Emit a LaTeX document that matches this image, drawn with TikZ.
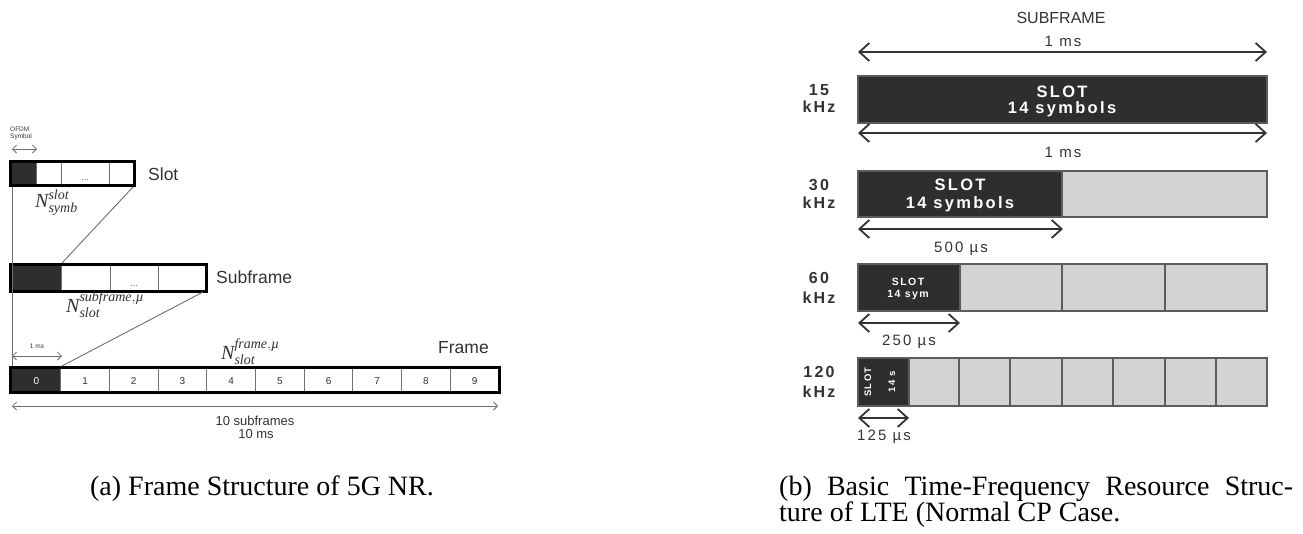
\documentclass[tikz,border=0pt]{standalone}
\usepackage{fontspec}
\usepackage{amsmath}
\setmainfont{Liberation Serif}
\newfontfamily\sfreg{Liberation Sans}
\newfontfamily\sfsp[LetterSpace=14]{Liberation Sans}
\newfontfamily\sfbold[LetterSpace=14]{Liberation Sans Bold}
\usetikzlibrary{arrows.meta}
\definecolor{cdark}{HTML}{2E2E2E}
\definecolor{cgray}{HTML}{D3D3D3}
\definecolor{ctext}{HTML}{333333}
\definecolor{cline}{HTML}{6E6E6E}
\definecolor{cedge}{HTML}{5C5C5C}
\tikzset{
  cellline/.style={draw=cline, line width=1pt},
  outerbox/.style={draw=black, line width=3pt},
  conn/.style={draw=cline, line width=0.9pt},
  smallarr/.style={draw=cline, line width=0.8pt, {Straight Barb[length=4pt,width=8pt]}-{Straight Barb[length=4pt,width=8pt]}},
  bigarr/.style={draw=ctext, line width=1.8pt, {Straight Barb[length=10pt,width=18pt]}-{Straight Barb[length=10pt,width=18pt]}},
  txt/.style={inner sep=0pt, text=ctext},
  lbl/.style={txt, anchor=base west, font=\sfreg\fontsize{17.5}{20}\selectfont},
  nlabel/.style={txt, anchor=base west, font=\fontsize{20}{24}\selectfont},
  digit/.style={txt, anchor=base, font=\sfreg\fontsize{10}{12}\selectfont},
  tinytxt/.style={txt, anchor=base west, font=\sfreg\fontsize{6.5}{7}\selectfont},
  note/.style={txt, anchor=base, font=\sfreg\fontsize{13}{15}\selectfont},
  freq/.style={txt, anchor=base, font=\sfbold\fontsize{16}{18}\selectfont},
  slottxt/.style={inner sep=0pt, text=white, anchor=base, font=\sfbold\fontsize{16.5}{18}\selectfont},
  slotsmall/.style={inner sep=0pt, text=white, anchor=base, font=\sfbold\fontsize{10.5}{12}\selectfont},
  slottiny/.style={inner sep=0pt, text=white, anchor=base, rotate=90, font=\sfbold\fontsize{9.5}{11}\selectfont},
  durtxt/.style={txt, anchor=base, font=\sfsp\fontsize{15}{18}\selectfont},
  titletxt/.style={txt, anchor=base, font=\sfreg\fontsize{16}{18}\selectfont},
  bar/.style={draw=cedge, line width=1.5pt},
  divline/.style={draw=cedge, line width=1.3pt},
  captxt/.style={inner sep=0pt, text=black, font=\fontsize{28}{30}\selectfont},
  dotstxt/.style={inner sep=0pt, text=cline, anchor=base, font=\sfreg\fontsize{9}{10}\selectfont}
}
\begin{document}
\begin{tikzpicture}[x=1pt,y=-1pt]
\useasboundingbox (0,0) rectangle (1303,533);
\fill[white] (0,0) rectangle (1303,533);

% ================= LEFT PANEL =================
% OFDM symbol label
\node[tinytxt] (ofdm1) at (10,131) {OFDM};
\node[tinytxt] (ofdm2) at (10,138.5) {Symbol};
\coordinate (os1) at (12,149);
\coordinate (os2) at (37,149);
\draw[smallarr] (os1) -- (os2);

% Slot box
\fill[cdark] (10,160) rectangle (36,186);
\draw[cellline] (36,160) -- (36,186);
\draw[cellline] (61,160) -- (61,186);
\draw[cellline] (109,160) -- (109,186);
\node[dotstxt] (sdots) at (85,180) {...};
\draw[outerbox] (10.5,161) rectangle (134,185.5);
\node[lbl] (slotlbl) at (148,180) {Slot};
\coordinate (slotbr) at (133,187);
\coordinate (slotbl) at (12,187);

% N symb slot
\node[nlabel] (nsymb) at (35,207) {$\textit{N}^{\textit{slot}}_{\textit{symb}}$};

% Subframe box
\fill[cdark] (10,263) rectangle (61,292);
\draw[cellline] (61,263) -- (61,292);
\draw[cellline] (110,263) -- (110,292);
\draw[cellline] (158,263) -- (158,292);
\node[dotstxt] (sfdots) at (134,286) {...};
\draw[outerbox] (10.5,264) rectangle (206.5,291);
\node[lbl] (sflbl) at (216,283) {Subframe};
\coordinate (sftop) at (62,263);
\coordinate (sfbr) at (203,292);

% N slot subframe
\node[nlabel] (nsf) at (66,312) {$\textit{N}^{\textit{subframe},\textit{\textmu}}_{\textit{slot}}$};

% connectors slot -> subframe
\draw[conn] (slotbr) -- (sftop);

% Frame box
\foreach \i [evaluate=\i as \xa using 12+48.7*\i, evaluate=\i as \xc using 12+48.7*\i+24.35] in {0,...,9} {
  \ifnum\i=0
    \fill[cdark] (\xa,367) rectangle (\xa+48.7,393);
    \node[digit, text=white] (d\i) at (\xc,384) {\i};
  \else
    \draw[cellline] (\xa,367) -- (\xa,393);
    \node[digit] (d\i) at (\xc,384) {\i};
  \fi
}
\draw[outerbox] (10.5,367.5) rectangle (499,392.5);
\coordinate (frtop) at (62,366);
\coordinate (frtl) at (12,366);
\node[lbl] (frlbl) at (438,353) {Frame};

% connectors subframe -> frame, vertical line
\draw[conn] (sfbr) -- (frtop);
\draw[conn] (slotbl) -- (frtl);

% 1 ms
\node[tinytxt, anchor=base] (onems) at (37,348) {1 ms};
\coordinate (om1) at (12,356);
\coordinate (om2) at (62,356);
\draw[smallarr] (om1) -- (om2);

% N slot frame
\node[nlabel] (nfr) at (221,359) {$\textit{N}^{\textit{frame},\textit{\textmu}}_{\textit{slot}}$};

% 10 subframes
\coordinate (ts1) at (12,406);
\coordinate (ts2) at (498,406);
\draw[smallarr] (ts1) -- (ts2);
\node[note] (tensf) at (255,425) {10 subframes};
\node[note] (tenms) at (256,438) {10 ms};

% ================= RIGHT PANEL =================
\node[titletxt] (sftitle) at (1061,23) {SUBFRAME};
\node[durtxt] (ms1) at (1063,46) {1 ms};
\coordinate (a1l) at (858,52);
\coordinate (a1r) at (1267,52);
\draw[bigarr] (a1l) -- (a1r);

% 15 kHz
\fill[cdark] (858,76) rectangle (1267,123);
\draw[bar] (858,76) rectangle (1267,123);
\node[freq] (f15a) at (819,95) {15};
\node[freq] (f15b) at (819,112) {kHz};
\node[slottxt] (s15a) at (1062,97) {SLOT};
\node[slottxt] (s15b) at (1062,113) {14 symbols};

\coordinate (a2l) at (858,133);
\coordinate (a2r) at (1267,133);
\draw[bigarr] (a2l) -- (a2r);
\node[durtxt] (ms2) at (1063,157) {1 ms};

% 30 kHz
\fill[cgray] (858,171) rectangle (1267,217);
\fill[cdark] (858,171) rectangle (1062,217);
\draw[divline] (1062,171) -- (1062,217);
\draw[bar] (858,171) rectangle (1267,217);
\node[freq] (f30a) at (819,190) {30};
\node[freq] (f30b) at (819,208) {kHz};
\node[slottxt] (s30a) at (960,190) {SLOT};
\node[slottxt] (s30b) at (960,208) {14 symbols};

\coordinate (a3l) at (858,229);
\coordinate (a3r) at (1063,229);
\draw[bigarr] (a3l) -- (a3r);
\node[durtxt] (us500) at (961,252) {500 µs};

% 60 kHz
\fill[cgray] (858,264) rectangle (1267,311);
\fill[cdark] (858,264) rectangle (960,311);
\foreach \xd in {960,1062,1165} {\draw[divline] (\xd,264) -- (\xd,311);}
\draw[bar] (858,264) rectangle (1267,311);
\node[freq] (f60a) at (819,283) {60};
\node[freq] (f60b) at (819,303) {kHz};
\node[slotsmall] (s60a) at (908,285.5) {SLOT};
\node[slotsmall] (s60b) at (908,297.5) {14 sym};

\coordinate (a4l) at (858,323);
\coordinate (a4r) at (960,323);
\draw[bigarr] (a4l) -- (a4r);
\node[durtxt] (us250) at (909,345) {250 µs};

% 120 kHz
\fill[cgray] (858,358) rectangle (1267,406);
\fill[cdark] (858,358) rectangle (909,406);
\foreach \xd in {909,959,1010,1062,1113,1165,1216} {\draw[divline] (\xd,358) -- (\xd,406);}
\draw[bar] (858,358) rectangle (1267,406);
\node[freq] (f120a) at (819,377.5) {120};
\node[freq] (f120b) at (819,397) {kHz};
\node[slottiny] (s120a) at (871,382) {SLOT};
\node[slottiny] (s120b) at (895,382) {14 s};

\coordinate (a5l) at (858,418);
\coordinate (a5r) at (909,418);
\draw[bigarr] (a5l) -- (a5r);
\node[durtxt] (us125) at (884,440) {125 µs};

% ================= CAPTIONS =================
\node[captxt, anchor=base] (capa) at (262,495) {(a) Frame Structure of 5G NR.};
\node[captxt, anchor=base west] (capb1) at (779,495.5) {\makebox[514pt][s]{(b) Basic Time-Frequency Resource Struc-}};
\node[captxt, anchor=base west] (capb2) at (779,521.7) {ture of LTE (Normal CP Case.};
\end{tikzpicture}
\end{document}
